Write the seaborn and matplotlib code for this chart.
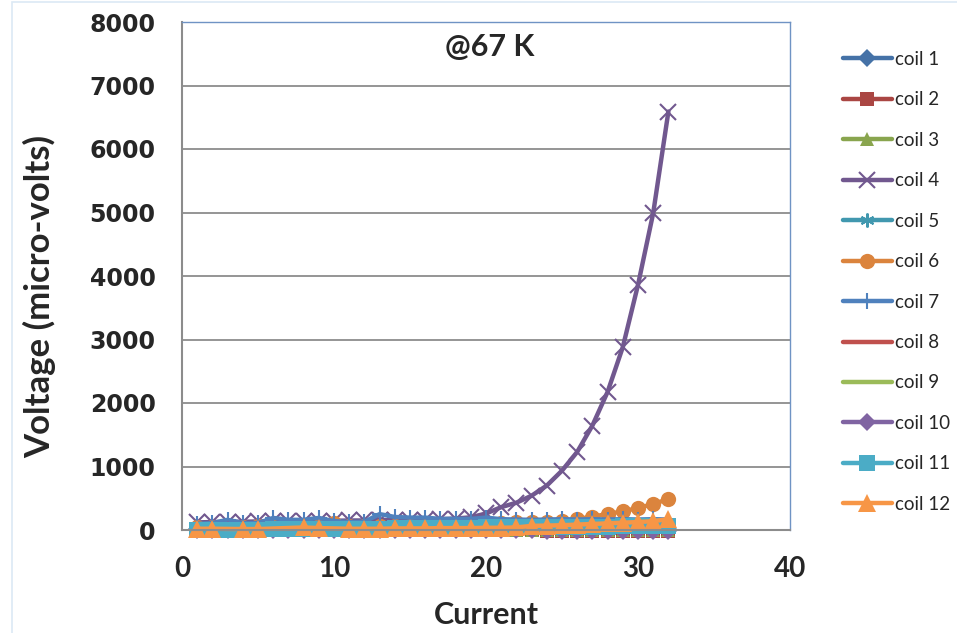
import matplotlib
matplotlib.use("Agg")
import matplotlib.pyplot as plt
import seaborn as sns
import pandas as pd
from matplotlib.patches import Rectangle

# ---------------- data ----------------
current = list(range(1, 33))
current_c12 = [1, 2, 4, 5, 8, 9] + list(range(11, 33))

coil1 = [10, 12, 10, 8, 10, 12, 10, 8, 10, 12, 10, 8, 10, 12, 10, 8,
         10, 12, 10, 8, 10, 12, 10, 8, 10, 12, 10, 8, 10, 12, 10, 8]
coil2 = [0, -5, 0, -5, 0, -5, 0, -5, 0, -5, 0, -5, 0, -5, 0, -5,
         0, -5, 0, -5, 0, -5, -5, -8, -8, -8, -10, -10, -10, -12, -12, -12]
coil3 = [5, 5, 5, 5, 5, 5, 5, 5, 5, 5, 5, 5, 5, 5, 5, 5,
         5, 5, 5, 5, 5, 5, 5, 5, 5, 5, 0, 0, 0, 0, 0, 0]
coil4 = [120, 125, 130, 130, 135, 135, 140, 140, 145, 145, 150, 150, 155, 155, 160, 165,
         170, 180, 200, 260, 360, 430, 540, 700, 935, 1230, 1645, 2175, 2880, 3860, 4990, 6590]
coil5 = [40, 45, 40, 45, 40, 45, 40, 45, 40, 45, 40, 45, 40, 45, 40, 45,
         40, 45, 40, 45, 40, 45, 40, 45, 40, 45, 40, 45, 40, 45, 40, 45]
coil6 = [50, 55, 50, 55, 60, 55, 60, 60, 65, 118, 60, 65, 60, 65, 70, 70,
         75, 80, 85, 95, 115, 121, 121, 131, 146, 173, 210, 252, 294, 346, 409, 488]
coil7 = [95, 110, 160, 110, 110, 190, 160, 160, 190, 140, 125, 130, 250, 205, 195, 195,
         175, 175, 175, 195, 170, 165, 160, 165, 170, 165, 170, 165, 170, 165, 170, 165]
coil8 = [0, 0, 0, 0, 0, 0, 0, 0, 0, 0, 0, 0, 0, 0, 0, 0,
         0, 0, 0, 0, 0, 0, -5, -5, -5, -5, -8, -8, -8, -8, -8, -8]
coil9 = [2, 2, 2, 2, 2, 2, 2, 2, 2, 2, 2, 2, 2, 2, 2, 2,
         2, 2, 2, 2, 2, 2, 2, 2, 2, 2, 2, 2, 2, 2, 2, 2]
coil10 = [-5, -5, -5, -5, -5, -5, -5, -5, -5, -5, -5, -5, -5, -5, -5, -5,
          -5, -5, -5, -5, -5, -5, -5, -8, -8, -8, -10, -10, -10, -10, -12, -12]
coil11 = [0, 0, 5, 5, 5, 10, 10, 10, 15, 15, 20, 20, 20, 25, 25, 30,
          30, 35, 35, 40, 40, 45, 45, 50, 50, 55, 55, 55, 60, 60, 60, 60]
coil12 = [20, 20, 15, 15, 40, 30, 20, 20, 20, 25, 25, 25, 30, 30, 30, 35,
          35, 40, 65, 70, 75, 85, 95, 105, 115, 125, 140, 170]

labels = [f"coil {i}" for i in range(1, 13)]
series = [coil1, coil2, coil3, coil4, coil5, coil6, coil7, coil8, coil9, coil10, coil11, coil12]
xs = [current] * 11 + [current_c12]
colors = ["#4572A7", "#AA4643", "#89A54E", "#71588F", "#4198AF", "#DB843D",
          "#4F81BD", "#C0504D", "#9BBB59", "#8064A2", "#4BACC6", "#F79646"]
markers = ["D", "s", "^", "x", (6, 2, 0), "o", "+", None, None, "D", "s", "^"]
msizes = [9, 10, 10, 11, 10, 11, 12, 0, 0, 9, 12, 13]

title = "@67 K"
xlabel = "Current"
ylabel = "Voltage (micro-volts)"
xticks = [0, 10, 20, 30, 40]
yticks = [0, 1000, 2000, 3000, 4000, 5000, 6000, 7000, 8000]

# ---------------- plot ----------------
sns.set_style("white")
plt.rcParams["font.family"] = ["Lato", "DejaVu Sans"]

W, H = 957, 633
fig = plt.figure(figsize=(W / 100, H / 100), dpi=100)
L, R, T, B = 182, 790, 22, 530
ax = fig.add_axes([L / W, 1 - B / H, (R - L) / W, (B - T) / H])

for x, y, lab, c, m, ms in zip(xs, series, labels, colors, markers, msizes):
    df = pd.DataFrame({"Current": x, "Voltage": y})
    kw = dict(marker=m, markersize=ms) if m is not None else {}
    if m in ("x", "+") or isinstance(m, tuple):
        kw["markeredgewidth"] = 1.5
        kw["markeredgecolor"] = c
    elif m is not None:
        kw["markeredgewidth"] = 0
    sns.lineplot(data=df, x="Current", y="Voltage", ax=ax, color=c, linewidth=3.2,
                 label=lab, clip_on=False, **kw)

ax.set_xlim(0, 40)
ax.set_ylim(0, 8000)
ax.set_xticks(xticks)
ax.set_yticks(yticks)
ax.yaxis.grid(True, color="#8c8c8c", linewidth=1.3)
ax.xaxis.grid(False)
ax.set_axisbelow(True)
for s in ["left", "bottom"]:
    ax.spines[s].set_color("#8c8c8c")
    ax.spines[s].set_linewidth(1.5)
for s in ["top", "right"]:
    ax.spines[s].set_color("#6f93c4")
    ax.spines[s].set_linewidth(1.0)

ax.tick_params(axis="both", length=0)
ax.tick_params(axis="y", pad=19, labelsize=17)
ax.tick_params(axis="x", pad=19, labelsize=20)
for lbl in ax.get_yticklabels():
    lbl.set_fontfamily("DejaVu Sans")
    lbl.set_fontweight("bold")
for lbl in ax.get_xticklabels():
    lbl.set_fontweight("bold")

ax.set_xlabel(xlabel, fontsize=22, fontweight="bold", va="center")
ax.set_ylabel(ylabel, fontsize=25, fontweight="bold", va="center")
ax.xaxis.set_label_coords((486 - L) / (R - L), (B - 615) / (B - T))
ax.yaxis.set_label_coords((40 - L) / (R - L), (B - 297) / (B - T))

ax.text((490 - L) / (R - L), (B - 47) / (B - T), title, transform=ax.transAxes,
        ha="center", va="center", fontsize=22, fontweight="bold")

handles, labs = ax.get_legend_handles_labels()
ax.get_legend().remove()
fig.legend(handles, labs, loc="upper left", bbox_to_anchor=(843 / W, 1 - 51 / H),
           frameon=False, fontsize=13.5, labelspacing=1.25, handlelength=2.6,
           handletextpad=0.15, borderpad=0, borderaxespad=0)

fig.add_artist(Rectangle((12 / W, -0.01), 1.0, 1 - 2 / H + 0.01, transform=fig.transFigure,
                         fill=False, edgecolor="#dce9f5", linewidth=1.2))

fig.savefig("out.png", dpi=100)
